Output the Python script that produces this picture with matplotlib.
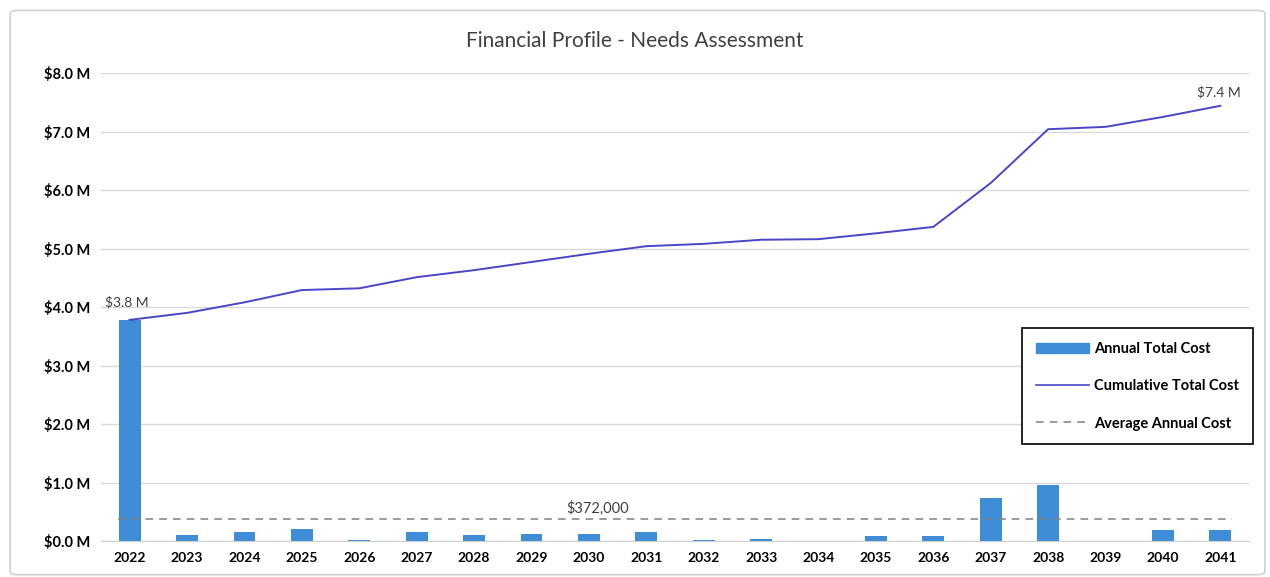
import numpy as np
import matplotlib
matplotlib.use("Agg")
import matplotlib.pyplot as plt
from matplotlib.patches import FancyBboxPatch, Patch
from matplotlib.lines import Line2D

plt.rcParams['font.family'] = ['Lato', 'DejaVu Sans']

years = [str(y) for y in range(2022, 2042)]
annual = [3.78, 0.10, 0.15, 0.21, 0.02, 0.15, 0.10, 0.12, 0.12, 0.15,
          0.02, 0.03, 0.0, 0.09, 0.09, 0.74, 0.95, 0.0, 0.18, 0.18]
cumulative = [3.78, 3.90, 4.08, 4.29, 4.32, 4.51, 4.63, 4.77, 4.91, 5.04,
              5.08, 5.15, 5.16, 5.26, 5.37, 6.12, 7.04, 7.08, 7.25, 7.44]
average = 0.372
yticks = [0, 1, 2, 3, 4, 5, 6, 7, 8]

bar_color = '#3F8DD6'
line_color = '#4B45C8'

fig = plt.figure(figsize=(12.7, 5.77), dpi=100)
# outer chart border
fig.patches.append(FancyBboxPatch((0.008, 0.004), 0.988, 0.978,
                                  boxstyle='round,pad=0,rounding_size=0.006',
                                  transform=fig.transFigure, fill=False,
                                  edgecolor='#d0d0d0', linewidth=1.2))

ax = fig.add_axes([0.0795, 0.0624, 0.904, 0.811])
x = np.arange(len(years))

ax.bar(x, annual, width=0.38, color=bar_color, zorder=2)
ax.plot(x, cumulative, color=line_color, linewidth=1.4, zorder=3)
ax.plot([x[0] - 0.2, x[-1] + 0.2], [average, average], color='#808080',
        linestyle=(0, (5, 4)), linewidth=1.1, zorder=3)

ax.set_xlim(-0.5, len(years) - 0.5)
ax.set_ylim(0, 8)
ax.set_yticks(yticks)
ax.set_yticklabels([f'${v:.1f} M' for v in yticks], fontweight='bold', fontsize=10.5)
ax.set_xticks(x)
ax.set_xticklabels(years, fontweight='bold', fontsize=10)
ax.tick_params(length=0, pad=8)
ax.grid(axis='y', color='#d9d9d9', linewidth=1, zorder=0)
for s in ['top', 'right', 'left']:
    ax.spines[s].set_visible(False)
ax.spines['bottom'].set_color('#d0d0d0')

ax.annotate(f'${annual[0]:.1f} M', (x[0], cumulative[0]), xytext=(-18, 10),
            textcoords='offset points', fontsize=10, color='#404040')
ax.annotate(f'${cumulative[-1]:.1f} M', (x[-1], cumulative[-1]), xytext=(-17, 7),
            textcoords='offset points', fontsize=10, color='#404040')
ax.text(7.6, average + 0.1, f'${average * 1e6:,.0f}', fontsize=10.5, color='#404040')

fig.text(0.5, 0.918, 'Financial Profile - Needs Assessment', ha='center',
         fontsize=15, color='#404040')

handles = [Patch(color=bar_color),
           Line2D([], [], color=line_color, linewidth=1.2),
           Line2D([], [], color='#808080', linestyle=(0, (5, 4)), linewidth=1.1)]
labels = ['Annual Total Cost', 'Cumulative Total Cost', 'Average Annual Cost']
leg = fig.legend(handles, labels, loc='upper left', bbox_to_anchor=(0.805, 0.4315),
                 borderaxespad=0, fancybox=False, edgecolor='black', framealpha=1,
                 labelspacing=1.6, borderpad=0.95, handlelength=3.6,
                 handletextpad=0.35, prop={'weight': 'bold', 'size': 10.5})
leg.get_frame().set_linewidth(1.2)

fig.savefig('out.png', dpi=100)
